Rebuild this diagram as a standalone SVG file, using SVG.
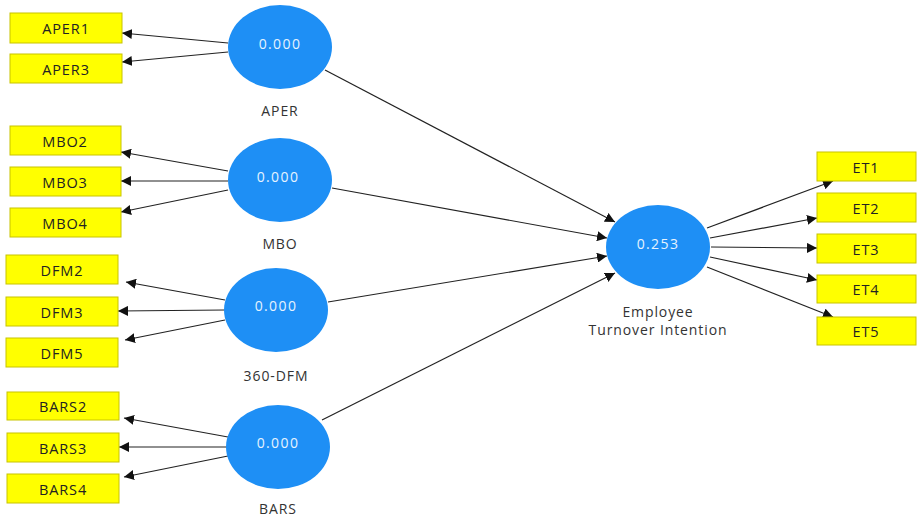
<svg xmlns="http://www.w3.org/2000/svg" width="917" height="521" viewBox="0 0 917 521">
<defs>
<marker id="ah" viewBox="0 0 10 10" refX="10" refY="5" markerWidth="10" markerHeight="10" markerUnits="userSpaceOnUse" orient="auto">
<path d="M0,0 L10,5 L0,10 z" fill="#111"/>
</marker>
<style>
.box{fill:#ffff00;stroke:#c8c400;stroke-width:1}
.bt{font-family:"Open Sans","Noto Sans",sans-serif;font-size:14.5px;letter-spacing:0.9px;fill:#222;text-anchor:middle;dominant-baseline:central}
.lv{fill:#1e8ff5}
.lt{font-family:"Open Sans","Noto Sans",sans-serif;font-size:14px;letter-spacing:1.4px;fill:#e6f3ff;text-anchor:middle;dominant-baseline:central}
.ll{font-family:"Open Sans","Noto Sans",sans-serif;font-size:14px;letter-spacing:0.9px;fill:#333;text-anchor:middle;dominant-baseline:central}
.c{stroke:#222;stroke-width:1.2;fill:none;marker-end:url(#ah)}
</style>
</defs>
<rect width="917" height="521" fill="#fff"/>
<g id="connectors">
<line class="c" x1="228" y1="43" x2="122" y2="33"/>
<line class="c" x1="228" y1="52" x2="122" y2="62"/>
<line class="c" x1="228" y1="171" x2="121" y2="152"/>
<line class="c" x1="228" y1="181" x2="121" y2="181"/>
<line class="c" x1="228" y1="190" x2="121" y2="212"/>
<line class="c" x1="225" y1="300" x2="126" y2="282"/>
<line class="c" x1="225" y1="310" x2="118" y2="311"/>
<line class="c" x1="225" y1="320" x2="125" y2="340"/>
<line class="c" x1="228" y1="437" x2="124" y2="418"/>
<line class="c" x1="228" y1="447" x2="119" y2="447"/>
<line class="c" x1="228" y1="456" x2="124" y2="477"/>
<line class="c" x1="325" y1="70" x2="615" y2="222"/>
<line class="c" x1="332" y1="188" x2="607" y2="238"/>
<line class="c" x1="328" y1="302" x2="607" y2="256"/>
<line class="c" x1="322" y1="420" x2="615" y2="273"/>
<line class="c" x1="707" y1="228" x2="833" y2="181"/>
<line class="c" x1="710" y1="238" x2="817" y2="218"/>
<line class="c" x1="711" y1="247" x2="817" y2="248"/>
<line class="c" x1="710" y1="257" x2="817" y2="280"/>
<line class="c" x1="707" y1="267" x2="833" y2="317"/>
</g>
<g id="APER1"><rect class="box" x="10" y="13" width="112" height="30"/><text class="bt" x="66" y="28">APER1</text></g>
<g id="APER3"><rect class="box" x="10" y="54" width="112" height="29"/><text class="bt" x="66" y="69">APER3</text></g>
<g id="MBO2"><rect class="box" x="10" y="126" width="111" height="29"/><text class="bt" x="65" y="141">MBO2</text></g>
<g id="MBO3"><rect class="box" x="10" y="167" width="111" height="29"/><text class="bt" x="65" y="182">MBO3</text></g>
<g id="MBO4"><rect class="box" x="10" y="208" width="111" height="29"/><text class="bt" x="65" y="223">MBO4</text></g>
<g id="DFM2"><rect class="box" x="6" y="255" width="112" height="29"/><text class="bt" x="62" y="270">DFM2</text></g>
<g id="DFM3"><rect class="box" x="6" y="297" width="112" height="29"/><text class="bt" x="62" y="312">DFM3</text></g>
<g id="DFM5"><rect class="box" x="6" y="338" width="112" height="29"/><text class="bt" x="62" y="353">DFM5</text></g>
<g id="BARS2"><rect class="box" x="7" y="392" width="112" height="28"/><text class="bt" x="63" y="406">BARS2</text></g>
<g id="BARS3"><rect class="box" x="7" y="433" width="112" height="29"/><text class="bt" x="63" y="448">BARS3</text></g>
<g id="BARS4"><rect class="box" x="7" y="474" width="112" height="29"/><text class="bt" x="63" y="489">BARS4</text></g>
<g id="ET1"><rect class="box" x="817" y="152" width="99" height="29"/><text class="bt" x="866" y="167">ET1</text></g>
<g id="ET2"><rect class="box" x="817" y="193" width="99" height="29"/><text class="bt" x="866" y="208">ET2</text></g>
<g id="ET3"><rect class="box" x="817" y="234" width="99" height="29"/><text class="bt" x="866" y="249">ET3</text></g>
<g id="ET4"><rect class="box" x="817" y="275" width="99" height="28"/><text class="bt" x="866" y="289">ET4</text></g>
<g id="ET5"><rect class="box" x="817" y="317" width="99" height="28"/><text class="bt" x="866" y="331">ET5</text></g>
<g id="APER"><ellipse class="lv" cx="280" cy="47" rx="52" ry="42"/><text class="lt" x="280" y="43">0.000</text><text class="ll" x="280" y="110">APER</text></g>
<g id="MBO"><ellipse class="lv" cx="280" cy="180" rx="52" ry="42"/><text class="lt" x="278" y="176">0.000</text><text class="ll" x="280" y="243">MBO</text></g>
<g id="DFM360"><ellipse class="lv" cx="276" cy="310" rx="52" ry="42"/><text class="lt" x="276" y="305">0.000</text><text class="ll" x="276" y="375">360-DFM</text></g>
<g id="BARS"><ellipse class="lv" cx="278" cy="447" rx="52" ry="42"/><text class="lt" x="278" y="442">0.000</text><text class="ll" x="278" y="508">BARS</text></g>
<g id="ETI"><ellipse class="lv" cx="658" cy="247" rx="52" ry="42"/><text class="lt" x="658" y="243">0.253</text><text class="ll" x="658" y="311">Employee</text><text class="ll" x="658" y="329">Turnover Intention</text></g>
</svg>
